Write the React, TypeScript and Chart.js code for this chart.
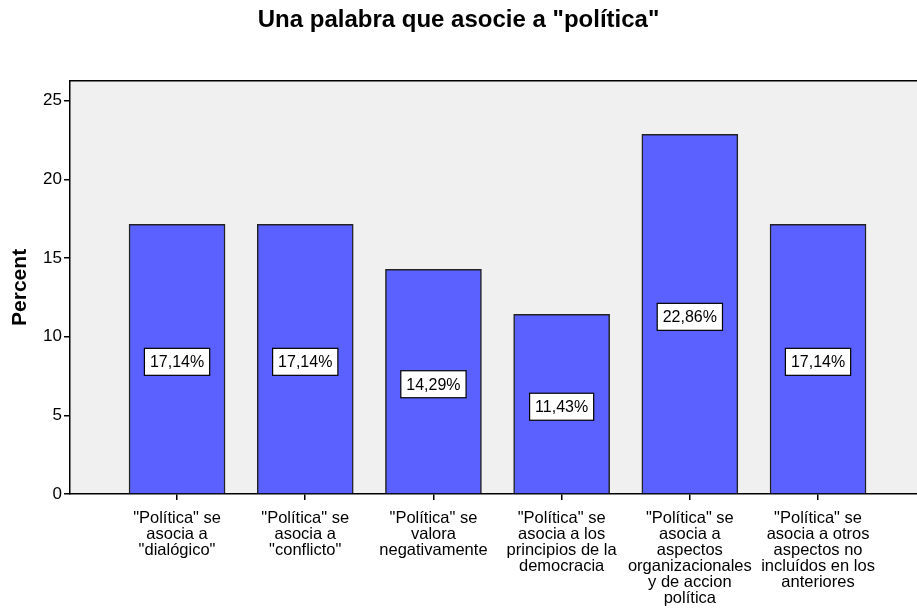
import React, { useEffect, useRef } from "react";
import { Chart, registerables } from "chart.js";

Chart.register(...registerables);

const categories: string[][] = [
  ['"Política" se', "asocia a", '"dialógico"'],
  ['"Política" se', "asocia a", '"conflicto"'],
  ['"Política" se', "valora", "negativamente"],
  ['"Política" se', "asocia a los", "principios de la", "democracia"],
  ['"Política" se', "asocia a", "aspectos", "organizacionales", "y de accion", "política"],
  ['"Política" se', "asocia a otros", "aspectos no", "incluídos en los", "anteriores"],
];
const percentValues: number[] = [17.14, 17.14, 14.29, 11.43, 22.86, 17.14];
const yTicks: number[] = [0, 5, 10, 15, 20, 25];
const titleText = 'Una palabra que asocie a "política"';
const yTitle = "Percent";

const FONT = "'Liberation Sans', Arial, sans-serif";

export default function App() {
  const ref = useRef<HTMLCanvasElement | null>(null);
  useEffect(() => {
    document.body.style.margin = "0";
    const canvas = ref.current!;
    const bgPlugin = {
      id: "bg",
      beforeDraw(chart: any) {
        const { ctx, chartArea } = chart;
        ctx.save();
        ctx.fillStyle = "#F0F0F0";
        ctx.fillRect(chartArea.left, chartArea.top, chartArea.right - chartArea.left, chartArea.bottom - chartArea.top);
        ctx.restore();
      },
      afterDraw(chart: any) {
        const { ctx, chartArea } = chart;
        ctx.save();
        ctx.strokeStyle = "#000";
        ctx.lineWidth = 1.5;
        ctx.beginPath();
        ctx.moveTo(chartArea.left, chartArea.top);
        ctx.lineTo(chartArea.right, chartArea.top);
        ctx.stroke();
        ctx.restore();
      },
    };
    const labelPlugin = {
      id: "valueLabels",
      afterDatasetsDraw(chart: any) {
        const { ctx } = chart;
        const meta = chart.getDatasetMeta(0);
        ctx.save();
        ctx.font = `16px ${FONT}`;
        ctx.textAlign = "center";
        ctx.textBaseline = "middle";
        meta.data.forEach((bar: any, i: number) => {
          const v = percentValues[i];
          const text = v.toFixed(2).replace(".", ",") + "%";
          const cx = bar.x;
          const cy = (bar.y + bar.base) / 2 + 3;
          const w = ctx.measureText(text).width + 11;
          const h = 27;
          ctx.fillStyle = "#fff";
          ctx.fillRect(cx - w / 2, cy - h / 2, w, h);
          ctx.strokeStyle = "#000";
          ctx.lineWidth = 1.2;
          ctx.strokeRect(cx - w / 2, cy - h / 2, w, h);
          ctx.fillStyle = "#000";
          ctx.fillText(text, cx, cy + 1);
        });
        ctx.restore();
      },
    };
    const chart = new Chart(canvas, {
      type: "bar",
      data: {
        datasets: [
          {
            data: percentValues.map((v, i) => ({ x: i + 1, y: v })),
            backgroundColor: "#5B61FF",
            borderColor: "#222222",
            borderWidth: 1.5,
            barThickness: 96,
          },
        ],
      },
      options: {
        responsive: false,
        animation: false,
        layout: { padding: 0 },
        plugins: {
          legend: { display: false },
          tooltip: { enabled: false },
          title: {
            display: true,
            text: titleText,
            color: "#000",
            font: { family: FONT, size: 24, weight: "bold", lineHeight: 1.2 },
            padding: { top: 6, bottom: 46 },
          },
        },
        scales: {
          x: {
            type: "linear",
            offset: false,
            min: 0.165,
            max: 6.772,
            afterBuildTicks(scale: any) {
              scale.ticks = categories.map((_, i) => ({ value: i + 1 }));
            },
            afterFit(scale: any) {
              scale.height = 115;
            },
            ticks: {
              autoSkip: false,
              maxRotation: 0,
              color: "#000",
              padding: 10,
              font: { family: FONT, size: 16.5, lineHeight: 0.98 },
              callback: (v: any) => categories[Math.round(Number(v)) - 1] ?? "",
            },
            grid: { offset: false, drawOnChartArea: false, drawTicks: true, tickLength: 6, color: "#000", lineWidth: 1.5 },
            border: { display: true, color: "#000", width: 1.5 },
          },
          y: {
            min: 0,
            max: 26.27,
            afterBuildTicks(scale: any) {
              scale.ticks = yTicks.map((v) => ({ value: v }));
            },
            afterFit(scale: any) {
              scale.width = 70;
            },
            ticks: {
              color: "#000",
              padding: 2,
              font: { family: FONT, size: 17 },
            },
            title: {
              display: true,
              text: yTitle,
              color: "#000",
              font: { family: FONT, size: 21, weight: "bold" },
              padding: { top: 8, bottom: 0 },
            },
            grid: { drawOnChartArea: false, drawTicks: true, tickLength: 6, color: "#000", lineWidth: 1.5 },
            border: { display: true, color: "#000", width: 1.5 },
          },
        },
      },
      plugins: [bgPlugin, labelPlugin],
    } as any);
    return () => chart.destroy();
  }, []);
  return (
    <div style={{ width: 917, height: 609, background: "#fff" }}>
      <canvas ref={ref} width={917} height={609} />
    </div>
  );
}
